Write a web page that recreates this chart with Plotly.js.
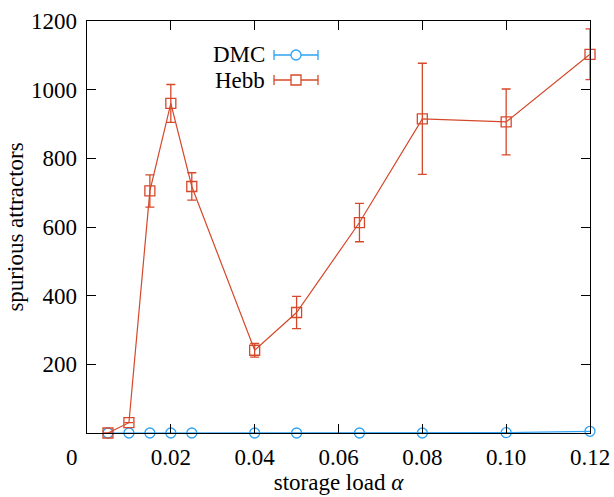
<!DOCTYPE html>
<html>
<head>
<meta charset="utf-8">
<script src="https://cdn.plot.ly/plotly-3.0.1.min.js"></script>
<style>html,body{margin:0;padding:0;background:#fff;}#chart{width:614px;height:497px;}</style>
</head>
<body>
<div id="chart"></div>
<script>
// Data
const alpha = [0.005, 0.01, 0.015, 0.02, 0.025, 0.04, 0.05, 0.065, 0.08, 0.10, 0.12];
const hebbValues = [0, 30, 705, 960, 718, 241, 351, 613, 915, 906, 1103];
const hebbErrors = [0, 0, 47, 55, 40, 20, 47, 56, 162, 96, 74];
const dmcValues = [0, 0, 0, 0, 0, 0, 0, 0, 0, 1, 5];
const xTickVals = [0.02, 0.04, 0.06, 0.08, 0.10, 0.12];
const xTickText = ["0.02", "0.04", "0.06", "0.08", "0.10", "0.12"];
const yTickVals = [200, 400, 600, 800, 1000, 1200];
const seriesNames = ["DMC", "Hebb"];

const blue = "#2ea3f2";
const red = "#d5482a";
const font = "Liberation Serif, Times New Roman, serif";
const fs = 23;

const traces = [
  {
    x: alpha, y: dmcValues, type: "scatter", mode: "lines+markers",
    line: {color: blue, width: 1.2},
    marker: {symbol: "circle-open", size: 10, color: blue, line: {width: 1.3, color: blue}},
    showlegend: false, cliponaxis: false
  },
  {
    x: alpha, y: hebbValues, type: "scatter", mode: "lines+markers",
    line: {color: red, width: 1.2},
    marker: {symbol: "square-open", size: 10, color: red, line: {width: 1.3, color: red}},
    error_y: {type: "data", array: hebbErrors, visible: true, color: red, thickness: 1.3, width: 4.5},
    showlegend: false, cliponaxis: false
  }
];

// plot area in px: left 87, right 590, top 21, bottom 433
const L = 87, R = 590, T = 21, B = 433;
const px = v => (v - L) / (R - L);
const py = v => (B - v) / (B - T);

const shapes = [];
const annotations = [];
const legendRows = [{y: 55, color: blue, sym: "circle"}, {y: 80, color: red, sym: "rect"}];
legendRows.forEach((row, i) => {
  const y = py(row.y);
  shapes.push({type: "line", xref: "paper", yref: "paper", x0: px(274), x1: px(318), y0: y, y1: y, line: {color: row.color, width: 1.3}});
  [274, 318].forEach(xx => {
    shapes.push({type: "line", xref: "paper", yref: "paper", xsizemode: "pixel", ysizemode: "pixel",
      xanchor: px(xx), yanchor: y, x0: 0, x1: 0, y0: -5, y1: 5, line: {color: row.color, width: 1.3}});
  });
  shapes.push({type: row.sym, xref: "paper", yref: "paper", xsizemode: "pixel", ysizemode: "pixel",
    xanchor: px(296), yanchor: y, x0: -5, x1: 5, y0: -5, y1: 5,
    line: {color: row.color, width: 1.3}, fillcolor: "white"});
  annotations.push({text: seriesNames[i], xref: "paper", yref: "paper", x: px(267), y: y,
    xanchor: "right", yanchor: "middle", showarrow: false, font: {family: font, size: fs, color: "#000"}});
});
annotations.push({text: "0", xref: "paper", yref: "paper", x: px(72), y: py(457),
  xanchor: "center", yanchor: "middle", showarrow: false, font: {family: font, size: fs, color: "#000"}});

const layout = {
  width: 614, height: 497,
  margin: {l: L, r: 614 - R, t: T, b: 497 - B, pad: 0},
  paper_bgcolor: "#fff", plot_bgcolor: "#fff",
  font: {family: font, size: fs, color: "#000"},
  xaxis: {
    range: [0, 0.12], tickvals: xTickVals, ticktext: xTickText,
    ticks: "inside", ticklen: 9, tickwidth: 1, tickcolor: "#000",
    ticklabelstandoff: 3,
    showline: true, linecolor: "#000", linewidth: 1.3, mirror: "ticks",
    showgrid: false, zeroline: false,
    title: {text: "storage load <i>α</i>", font: {family: font, size: fs}, standoff: 4}
  },
  yaxis: {
    range: [0, 1200], tickvals: yTickVals,
    ticks: "inside", ticklen: 9, tickwidth: 1, tickcolor: "#000",
    ticklabelstandoff: 4,
    showline: true, linecolor: "#000", linewidth: 1.3, mirror: "ticks",
    showgrid: false, zeroline: false,
    title: {text: "spurious attractors", font: {family: font, size: fs}, standoff: 1}
  },
  shapes: shapes,
  annotations: annotations
};

Plotly.newPlot("chart", traces, layout, {displayModeBar: false, staticPlot: true});
</script>
</body>
</html>
